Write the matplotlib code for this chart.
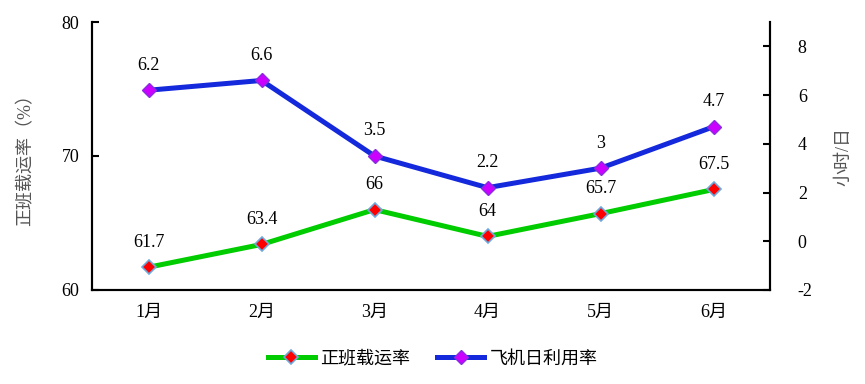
import matplotlib
matplotlib.use("Agg")
import matplotlib.pyplot as plt

plt.rcParams['font.family'] = ['Liberation Serif', 'Noto Sans CJK SC']
plt.rcParams['axes.unicode_minus'] = False

# data
months = ["1月", "2月", "3月", "4月", "5月", "6月"]
load_rate = [61.7, 63.4, 66, 64, 65.7, 67.5]
util_rate = [6.2, 6.6, 3.5, 2.2, 3, 4.7]
load_labels = ["61.7", "63.4", "66", "64", "65.7", "67.5"]
util_labels = ["6.2", "6.6", "3.5", "2.2", "3", "4.7"]

fig = plt.figure(figsize=(8.65, 3.84), dpi=100)
ax = fig.add_axes([0.1064, 0.2448, 0.7838, 0.6979])
ax2 = ax.twinx()

x = list(range(len(months)))

l1, = ax.plot(x, load_rate, color='#00CC00', lw=3.6, marker='D', ms=7.5,
              mfc='#FF0000', mec='#6FA8DC', mew=1.2, label='正班载运率')
l2, = ax2.plot(x, util_rate, color='#1428DC', lw=3.6, marker='D', ms=7.5,
               mfc='#CC00FF', mec='#8A2BE2', mew=1.0, label='飞机日利用率')

for xi, v, t in zip(x, load_rate, load_labels):
    ax.annotate(t, (xi, v), xytext=(0, 12), textcoords='offset points',
                ha='center', va='bottom', fontsize=13)
for xi, v, t in zip(x, util_rate, util_labels):
    ax2.annotate(t, (xi, v), xytext=(0, 12), textcoords='offset points',
                 ha='center', va='bottom', fontsize=13)

ax.set_xlim(-0.5, 5.5)
ax.set_ylim(60, 80)
ax.set_yticks([60, 70, 80])
ax2.set_ylim(-2, 9)
ax2.set_yticks([-2, 0, 2, 4, 6, 8])
ax.set_xticks(x)
ax.set_xticklabels(months)

for a in (ax, ax2):
    a.spines['top'].set_visible(False)
    for s in a.spines.values():
        s.set_linewidth(1.5)
    a.tick_params(axis='both', labelsize=13)
ax.tick_params(axis='y', direction='in', length=5, width=1.5, pad=9)
ax2.tick_params(axis='y', direction='in', length=5, width=1.5, pad=20)
ax.tick_params(axis='x', length=0, pad=10)

ax.set_ylabel('正班载运率（%）', fontsize=13, color='#555555', labelpad=20)
ax2.set_ylabel('小时/日', fontsize=13, color='#555555', rotation=90, labelpad=16)

fig.legend(handles=[l1, l2], loc='lower center', bbox_to_anchor=(0.5, 0.0),
           ncol=2, frameon=False, fontsize=13, handlelength=2.6,
           handletextpad=0.3, columnspacing=1.5)

fig.savefig('out.png', dpi=100)
